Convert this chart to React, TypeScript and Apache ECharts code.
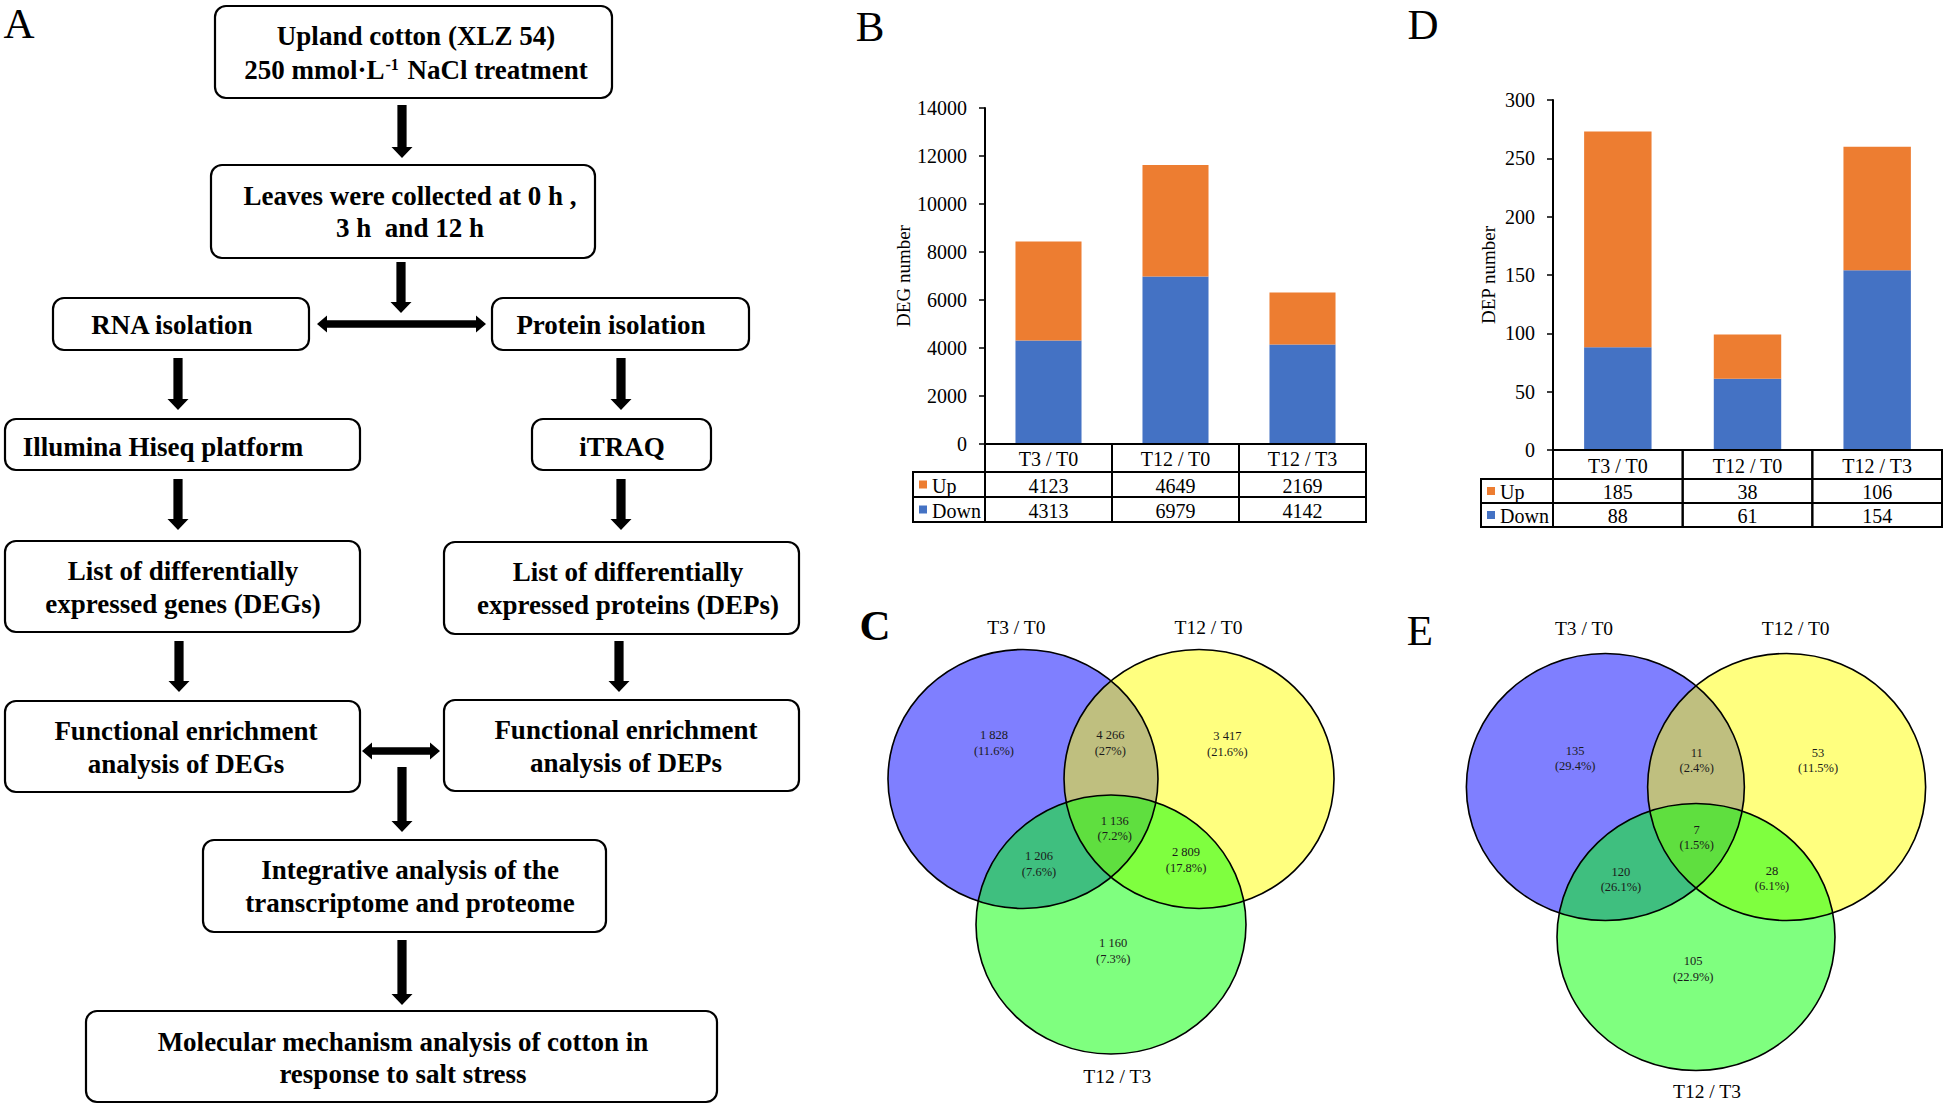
import React, { useEffect, useRef } from "react";
import * as echarts from "echarts";

// ---------------- DATA ----------------
const comparisons = ["T3 / T0", "T12 / T0", "T12 / T3"];
const degUp = [4123, 4649, 2169];
const degDown = [4313, 6979, 4142];
const depUp = [185, 38, 106];
const depDown = [88, 61, 154];
const degAxisMax = 14000;
const degAxisInterval = 2000;
const depAxisMax = 300;
const depAxisInterval = 50;
const rowNames = ["Up", "Down"];

// Venn: regions order = only A, A∩B, only B, A∩B∩C, A∩C, B∩C, only C
const vennSets = ["T3 / T0", "T12 / T0", "T12 / T3"];
const degVennCounts = [1828, 4266, 3417, 1136, 1206, 2809, 1160];
const degVennPct = [11.6, 27, 21.6, 7.2, 7.6, 17.8, 7.3];
const depVennCounts = [135, 11, 53, 7, 120, 28, 105];
const depVennPct = [29.4, 2.4, 11.5, 1.5, 26.1, 6.1, 22.9];

// ---------------- LAYOUT / STYLE ----------------
const FONT = '"Liberation Serif", "Times New Roman", serif';
const ORANGE = "#ED7D31";
const BLUE = "#4472C4";
const vennCenters = [
  [-0.652, 0],
  [0.652, 0],
  [0, -1.124],
];
const vennFills = ["rgba(0,0,255,0.5)", "rgba(255,255,0,0.5)", "rgba(0,255,0,0.5)"];
const degVennLabelPos = [
  [-0.867, 0.278],
  [-0.005, 0.278],
  [0.862, 0.27],
  [0.028, -0.383],
  [-0.533, -0.657],
  [0.556, -0.624],
  [0.016, -1.33],
];
const degVennTitlePos = [
  [-0.701, 1.168],
  [0.722, 1.168],
  [0.046, -2.3],
];
const depVennLabelPos = [
  [-0.869, 0.213],
  [0.005, 0.2],
  [0.878, 0.2],
  [0.005, -0.378],
  [-0.54, -0.694],
  [0.547, -0.686],
  [-0.02, -1.363],
];
const depVennTitlePos = [
  [-0.806, 1.19],
  [0.717, 1.19],
  [0.079, -2.283],
];

const fmtCount = (n: number) => String(n).replace(/\B(?=(\d{3})+(?!\d))/g, " ");

// flowchart boxes: x, y, w, h, text centre x, line ys, lines
const boxes: any[] = [
  { x: 215, y: 6, w: 397, h: 92, cx: 416, ys: [36, 70], lines: ["Upland cotton (XLZ 54)", "250 mmol·L{sup|-1} NaCl treatment"] },
  { x: 211, y: 165, w: 384, h: 93, cx: 410, ys: [196, 228], lines: ["Leaves were collected at 0 h ,", "3 h  and 12 h"] },
  { x: 53, y: 298, w: 256, h: 52, cx: 172, ys: [325], lines: ["RNA isolation"] },
  { x: 492, y: 298, w: 257, h: 52, cx: 611, ys: [325], lines: ["Protein isolation"] },
  { x: 5, y: 419, w: 355, h: 51, cx: 163, ys: [447], lines: ["Illumina Hiseq platform"] },
  { x: 532, y: 419, w: 179, h: 51, cx: 622, ys: [447], lines: ["iTRAQ"] },
  { x: 5, y: 541, w: 355, h: 91, cx: 183, ys: [571, 604], lines: ["List of differentially", "expressed genes (DEGs)"] },
  { x: 444, y: 542, w: 355, h: 92, cx: 628, ys: [572, 605], lines: ["List of differentially", "expressed proteins (DEPs)"] },
  { x: 5, y: 701, w: 355, h: 91, cx: 186, ys: [731, 764], lines: ["Functional enrichment", "analysis of DEGs"] },
  { x: 444, y: 700, w: 355, h: 91, cx: 626, ys: [730, 763], lines: ["Functional enrichment", "analysis of DEPs"] },
  { x: 203, y: 840, w: 403, h: 92, cx: 410, ys: [870, 903], lines: ["Integrative analysis of the", "transcriptome and proteome"] },
  { x: 86, y: 1011, w: 631, h: 91, cx: 403, ys: [1042, 1074], lines: ["Molecular mechanism analysis of cotton in", "response to salt stress"] },
];
const downArrows = [
  [402, 105, 158],
  [401, 262, 313],
  [178, 358, 410],
  [621, 358, 410],
  [178, 479, 530],
  [621, 479, 530],
  [179, 641, 692],
  [619, 641, 692],
  [402, 767, 832],
  [402, 940, 1005],
];
const doubleArrows = [
  [324, 317, 486],
  [751, 362, 440],
];

function downArrow(x: number, y1: number, y2: number) {
  const sw = 4.6, hw = 10.5, hh = 11;
  return {
    type: "polygon",
    shape: { points: [[x - sw, y1], [x + sw, y1], [x + sw, y2 - hh], [x + hw, y2 - hh], [x, y2], [x - hw, y2 - hh], [x - sw, y2 - hh]] },
    style: { fill: "#000" },
  };
}
function doubleArrow(y: number, x1: number, x2: number) {
  const sw = 3.8, hw = 8.5, hl = 10;
  return {
    type: "polygon",
    shape: {
      points: [[x1, y], [x1 + hl, y - hw], [x1 + hl, y - sw], [x2 - hl, y - sw], [x2 - hl, y - hw], [x2, y], [x2 - hl, y + hw], [x2 - hl, y + sw], [x1 + hl, y + sw], [x1 + hl, y + hw]],
    },
    style: { fill: "#000" },
  };
}

function flowchartElements() {
  const els: any[] = [];
  boxes.forEach((b) => {
    els.push({
      type: "rect",
      shape: { x: b.x, y: b.y, width: b.w, height: b.h, r: 11 },
      style: { fill: "#fff", stroke: "#000", lineWidth: 2.2 },
    });
    b.lines.forEach((t: string, k: number) => {
      els.push({
        type: "text",
        x: b.cx,
        y: b.ys[k],
        style: {
          text: t,
          fontFamily: FONT,
          fontSize: 27,
          fontWeight: "bold",
          fill: "#000",
          align: "center",
          verticalAlign: "middle",
          textAlign: "center",
          textVerticalAlign: "middle",
          rich: {
            sup: { fontFamily: FONT, fontSize: 16, fontWeight: "bold", fill: "#000", verticalAlign: "top", padding: [0, 2, 0, 1] },
          },
        },
      });
    });
  });
  downArrows.forEach((a) => els.push(downArrow(a[0], a[1], a[2])));
  doubleArrows.forEach((a) => els.push(doubleArrow(a[0], a[1], a[2])));
  return els;
}

const panelLetters = [
  { t: "A", x: 19, y: 23, bold: false },
  { t: "B", x: 870, y: 26, bold: false },
  { t: "D", x: 1423, y: 24, bold: false },
  { t: "C", x: 875, y: 625, bold: true },
  { t: "E", x: 1420, y: 630, bold: false },
];

function makeTableRenderer(up: number[], down: number[], headH: number, rowH: number, legendW: number) {
  return (params: any, api: any) => {
    const i = api.value(0);
    const c = api.coord([i, 0]);
    const w = api.size([1, 0])[0];
    const x0 = c[0] - w / 2;
    const y0 = c[1];
    const cell = (x: number, y: number, ww: number, hh: number) => ({
      type: "rect",
      shape: { x, y, width: ww, height: hh },
      style: { fill: "none", stroke: "#000", lineWidth: 2 },
    });
    const txt = (t: string, x: number, y: number, align = "center") => ({
      type: "text",
      x,
      y,
      style: { text: t, fontFamily: FONT, fontSize: 20, fill: "#000", align, verticalAlign: "middle" },
    });
    const ch: any[] = [
      cell(x0, y0, w, headH),
      cell(x0, y0 + headH, w, rowH),
      cell(x0, y0 + headH + rowH, w, rowH),
      txt(comparisons[i], c[0], y0 + headH / 2 + 1),
      txt(String(up[i]), c[0], y0 + headH + rowH / 2 + 1),
      txt(String(down[i]), c[0], y0 + headH + rowH * 1.5 + 1),
    ];
    if (i === 0) {
      const lx = x0 - legendW;
      [ORANGE, BLUE].forEach((col, k) => {
        const ry = y0 + headH + rowH * k;
        ch.push(cell(lx, ry, legendW, rowH));
        ch.push({ type: "rect", shape: { x: lx + 6, y: ry + rowH / 2 - 4, width: 8, height: 8 }, style: { fill: col } });
        ch.push(txt(rowNames[k], lx + 19, ry + rowH / 2 + 1, "left"));
      });
    }
    return { type: "group", children: ch };
  };
}

function vennCircleSeries(axisIndex: number) {
  const data: number[][] = [];
  vennCenters.forEach((c, k) => data.push([c[0], c[1], k, 0]));
  vennCenters.forEach((c, k) => data.push([c[0], c[1], k, 1]));
  return {
    type: "custom",
    xAxisIndex: axisIndex,
    yAxisIndex: axisIndex,
    clip: false,
    silent: true,
    data,
    renderItem: (params: any, api: any) => {
      const p = api.coord([api.value(0), api.value(1)]);
      const s = api.size([1, 1]);
      const k = api.value(2);
      const outline = api.value(3) === 1;
      return {
        type: "ellipse",
        shape: { cx: p[0], cy: p[1], rx: s[0], ry: s[1] },
        style: outline ? { fill: "none", stroke: "#000", lineWidth: 1.6 } : { fill: vennFills[k], stroke: "none" },
      };
    },
  };
}

function vennTextSeries(axisIndex: number, counts: number[], pcts: number[], labelPos: number[][], titlePos: number[][]) {
  const data: number[][] = [];
  labelPos.forEach((p, k) => data.push([p[0], p[1], k, 0]));
  titlePos.forEach((p, k) => data.push([p[0], p[1], k, 1]));
  return {
    type: "custom",
    xAxisIndex: axisIndex,
    yAxisIndex: axisIndex,
    clip: false,
    silent: true,
    z: 5,
    data,
    renderItem: (params: any, api: any) => {
      const p = api.coord([api.value(0), api.value(1)]);
      const k = api.value(2);
      const isTitle = api.value(3) === 1;
      const text = isTitle ? vennSets[k] : `${fmtCount(counts[k])}\n(${pcts[k]}%)`;
      return {
        type: "text",
        x: p[0],
        y: p[1],
        style: {
          text,
          fontFamily: FONT,
          fontSize: isTitle ? 19.5 : 12.5,
          lineHeight: isTitle ? 22 : 15.5,
          fill: isTitle ? "#000" : "#1a1a1a",
          align: "center",
          verticalAlign: "middle",
        },
      };
    },
  };
}

function barYAxis(gridIndex: number, max: number, interval: number, name: string, nameGap: number) {
  return {
    type: "value",
    gridIndex,
    min: 0,
    max,
    interval,
    name,
    nameLocation: "middle",
    nameRotate: 90,
    nameGap,
    nameTextStyle: { fontFamily: FONT, fontSize: 19, color: "#000" },
    axisLine: { show: true, lineStyle: { color: "#000", width: 2 } },
    axisTick: { show: true, length: 6, lineStyle: { color: "#000", width: 1.5 } },
    axisLabel: { fontFamily: FONT, fontSize: 20, color: "#000", margin: 18, formatter: (v: number) => String(v) },
    splitLine: { show: false },
  };
}
function barXAxis(gridIndex: number) {
  return {
    type: "category",
    gridIndex,
    data: comparisons,
    axisLine: { show: false },
    axisTick: { show: false },
    axisLabel: { show: false },
    splitLine: { show: false },
  };
}
function vennAxes(gridIndex: number, xmin: number, xmax: number, ymin: number, ymax: number) {
  return {
    x: { type: "value", gridIndex, min: xmin, max: xmax, show: false, splitLine: { show: false } },
    y: { type: "value", gridIndex, min: ymin, max: ymax, show: false, splitLine: { show: false } },
  };
}

// Venn frames: unit scale (px per unit) and origin, in pixels
const vennFrameC = { ox: 1111, oy: 779, sx: 135, sy: 129.5, xmin: -1.9, xmax: 1.9, ymin: -2.38, ymax: 1.45 };
const vennFrameE = { ox: 1696, oy: 787, sx: 139, sy: 133.5, xmin: -1.7, xmax: 1.75, ymin: -2.38, ymax: 1.45 };
function vennGrid(f: any) {
  return {
    left: f.ox + f.xmin * f.sx,
    top: f.oy - f.ymax * f.sy,
    width: (f.xmax - f.xmin) * f.sx,
    height: (f.ymax - f.ymin) * f.sy,
  };
}

function buildOption() {
  const vc = vennAxes(2, vennFrameC.xmin, vennFrameC.xmax, vennFrameC.ymin, vennFrameC.ymax);
  const ve = vennAxes(3, vennFrameE.xmin, vennFrameE.xmax, vennFrameE.ymin, vennFrameE.ymax);
  const tableIdx = comparisons.map((_, i) => [i, 0]);
  return {
    animation: false,
    backgroundColor: "#fff",
    grid: [
      { left: 985, top: 108, width: 381, height: 336 },
      { left: 1553, top: 100, width: 389, height: 350 },
      vennGrid(vennFrameC),
      vennGrid(vennFrameE),
    ],
    xAxis: [barXAxis(0), barXAxis(1), vc.x, ve.x],
    yAxis: [
      barYAxis(0, degAxisMax, degAxisInterval, "DEG number", 65),
      barYAxis(1, depAxisMax, depAxisInterval, "DEP number", 55),
      vc.y,
      ve.y,
    ],
    series: [
      { type: "bar", name: "Down", xAxisIndex: 0, yAxisIndex: 0, stack: "deg", data: degDown, barWidth: "52%", itemStyle: { color: BLUE } },
      { type: "bar", name: "Up", xAxisIndex: 0, yAxisIndex: 0, stack: "deg", data: degUp, barWidth: "52%", itemStyle: { color: ORANGE } },
      { type: "bar", name: "Down", xAxisIndex: 1, yAxisIndex: 1, stack: "dep", data: depDown, barWidth: "52%", itemStyle: { color: BLUE } },
      { type: "bar", name: "Up", xAxisIndex: 1, yAxisIndex: 1, stack: "dep", data: depUp, barWidth: "52%", itemStyle: { color: ORANGE } },
      {
        type: "custom",
        xAxisIndex: 0,
        yAxisIndex: 0,
        clip: false,
        silent: true,
        z: 10,
        data: tableIdx,
        renderItem: makeTableRenderer(degUp, degDown, 28, 25, 72),
      },
      {
        type: "custom",
        xAxisIndex: 1,
        yAxisIndex: 1,
        clip: false,
        silent: true,
        z: 10,
        data: tableIdx,
        renderItem: makeTableRenderer(depUp, depDown, 29, 24, 72),
      },
      vennCircleSeries(2),
      vennTextSeries(2, degVennCounts, degVennPct, degVennLabelPos, degVennTitlePos),
      vennCircleSeries(3),
      vennTextSeries(3, depVennCounts, depVennPct, depVennLabelPos, depVennTitlePos),
    ],
    graphic: [
      ...flowchartElements(),
      ...panelLetters.map((l) => ({
        type: "text",
        x: l.x,
        y: l.y,
        style: {
          text: l.t,
          fontFamily: FONT,
          fontSize: 43,
          fontWeight: l.bold ? "bold" : "normal",
          fill: "#000",
          align: "center",
          verticalAlign: "middle",
          textAlign: "center",
          textVerticalAlign: "middle",
        },
      })),
    ],
  };
}

export default function App() {
  const ref = useRef<HTMLDivElement>(null);
  useEffect(() => {
    const chart = echarts.init(ref.current as HTMLDivElement, null, { renderer: "svg" });
    chart.setOption(buildOption() as any);
    return () => chart.dispose();
  }, []);
  return (
    <div
      ref={ref}
      style={{ position: "fixed", left: 0, top: 0, width: 1944, height: 1106, background: "#fff" }}
    />
  );
}
